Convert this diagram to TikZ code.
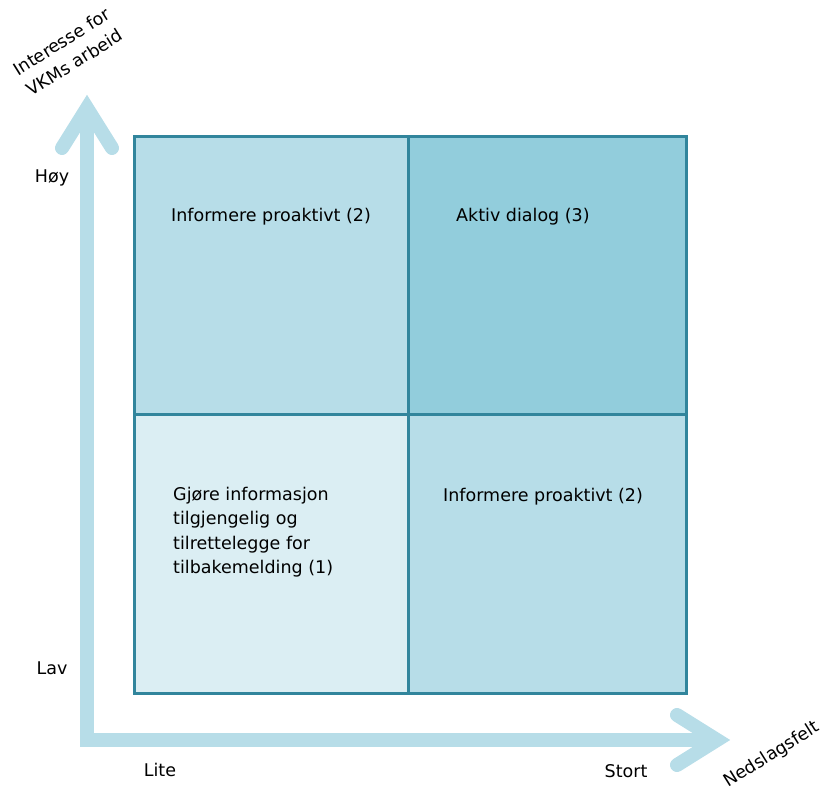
\documentclass[tikz,border=0pt]{standalone}
\usepackage{fontspec}
\setmainfont{DejaVu Sans}
\definecolor{axiscol}{HTML}{B7DDE8}
\definecolor{framecol}{HTML}{31859C}
\definecolor{fillmid}{HTML}{B7DDE8}
\definecolor{filldark}{HTML}{92CDDC}
\definecolor{filllight}{HTML}{DBEEF3}
\tikzset{
  quadbox/.style = {draw = framecol, line width = 3pt},
  axisline/.style = {draw = axiscol, line width = 14pt, line join = miter},
  axishead/.style = {draw = axiscol, line width = 14pt, line cap = round, line join = miter},
  lbl/.style = {inner sep = 0pt, font = \fontsize{17.5}{24.5}\selectfont},
}
\begin{document}
\begin{tikzpicture}[x = 1pt, y = -1pt]
\useasboundingbox (0,0) rectangle (825,791);
% axes
\coordinate (origin) at (87,740);
\coordinate (ytip) at (87,108);
\coordinate (xtip) at (717,740);
\draw[axisline] (ytip) -- (origin) -- (xtip);
\draw[axishead] (62,148) -- (ytip) -- (112,148);
\draw[axishead] (677,715) -- (xtip) -- (677,765);
% quadrants
\draw[quadbox, fill = filllight] (134,415) rectangle (408,693);
\draw[quadbox, fill = fillmid] (408,415) rectangle (686,693);
\draw[quadbox, fill = fillmid] (134,137) rectangle (408,415);
\draw[quadbox, fill = filldark] (408,137) rectangle (686,415);
% texts
\node[lbl, anchor = west] (tl) at (171,217) {Informere proaktivt (2)};
\node[lbl, anchor = west] (tr) at (456,217) {Aktiv dialog (3)};
\node[lbl, anchor = west] (br) at (443,497) {Informere proaktivt (2)};
\node[lbl, anchor = north west, align = left] (bl) at (173,487) {Gjøre informasjon\\tilgjengelig og\\tilrettelegge for\\tilbakemelding (1)};
% axis labels
\node[lbl] (hoy) at (52,178) {Høy};
\node[lbl] (lav) at (52,668) {Lav};
\node[lbl] (lite) at (160,770) {Lite};
\node[lbl] (stort) at (626,771) {Stort};
\node[lbl, align = center, rotate = 32] (yname) at (68,52) {Interesse for\\VKMs arbeid};
\node[lbl, rotate = 32] (xname) at (772,755) {Nedslagsfelt};
\end{tikzpicture}
\end{document}
